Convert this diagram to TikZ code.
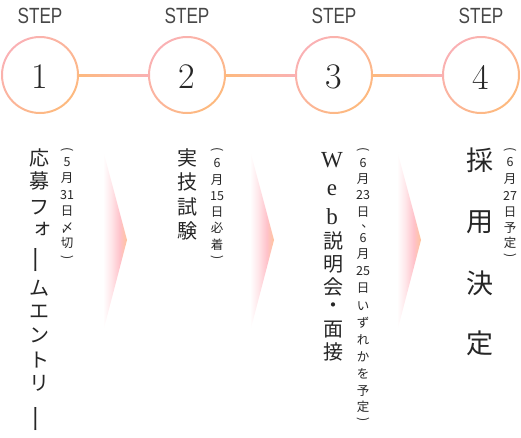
\documentclass[tikz,border=0pt]{standalone}
\usepackage{fontspec}
\usepackage{graphicx}
\newfontfamily\jp{Noto Sans CJK JP}
\newfontfamily\serifl{Liberation Serif}
\newfontfamily\stepfont[FakeStretch=0.78]{Liberation Sans}
\definecolor{pinkc}{HTML}{FAB1B4}
\definecolor{orangec}{HTML}{FDB97E}
\definecolor{chevpink}{HTML}{FFC2CA}
\definecolor{chevorange}{HTML}{FFC39C}
\definecolor{txt}{HTML}{262626}
\definecolor{steptxt}{HTML}{474747}
\pgfdeclarehorizontalshading{chev}{100bp}{color(0bp)=(white); color(25bp)=(white); color(42bp)=(white!60!chevpink); color(60bp)=(chevpink); color(75bp)=(chevorange); color(100bp)=(chevorange)}
\tikzset{
  mj/.style={font=\jp\fontsize{20}{20}\selectfont, text=txt, inner sep=0pt},
  bigj/.style={font=\jp\fontsize{27}{27}\selectfont, text=txt, inner sep=0pt},
  lat/.style={font=\serifl\fontsize{23}{23}\selectfont, text=txt, inner sep=0pt},
  sj/.style={font=\jp\fontsize{12.5}{12.5}\selectfont, text=txt, inner sep=0pt},
  steplbl/.style={font=\stepfont\fontsize{22}{22}\selectfont, text=steptxt, inner sep=0pt},
  circ/.style={circle, minimum size=76pt, inner sep=0pt, outer sep=0pt},
  digit/.style={font=\fontsize{36}{36}\selectfont, text=txt, inner sep=0pt},
}
\newcommand\vbar{\rotatebox{90}{\scalebox{1.45}[1]{ー}}}
\newcommand\lp{\rotatebox{-90}{(}}
\newcommand\rp{\rotatebox{-90}{)}}
\begin{document}
\begin{tikzpicture}[x=1pt,y=-1pt]
\useasboundingbox (0,0) rectangle (521,437);

% circles, labels, digits
\foreach \i/\x in {1/40,2/187,3/334,4/481}{
  \node[circ] (c\i) at (\x,75) {};
  \shade[top color=pinkc, bottom color=orangec, shading angle=45, even odd rule]
    (c\i.center) circle[radius=39pt] (c\i.center) circle[radius=37pt];
  \node[steplbl] (t\i) at (\x,16) {STEP};
  \node[digit] (d\i) at (\x,77) {\i};
}
% connectors
\foreach \a/\b in {1/2,2/3,3/4}{
  \shade[left color=orangec, right color=pinkc]
    ([yshift=1pt]c\a.east) rectangle ([yshift=-1pt]c\b.west);
}

% chevrons
\foreach \dx in {0,147,294}{
  \shade[shading=chev] (103+\dx,150) -- (127+\dx,240) -- (103+\dx,332) -- cycle;
}

% step 1 main
\foreach \c/\y [count=\k] in {応/158,募/181,フ/208,{\vbar}/260,ム/288,エ/312,ン/335,ト/360,リ/383}{
  \node[mj] (ma\k) at (39,\y) {\c};
}
\node[mj] (ma-o) at (42,229) {ォ};
\node[mj] (ma-end) at (39,419) {\vbar};
% step 1 sub
\foreach \c/\y [count=\k] in {{\lp}/150,5/162,月/178,31/195,日/211,〆/228,切/243,{\rp}/258}{
  \node[sj] (sa\k) at (67,\y) {\c};
}

% step 2 main
\foreach \c/\y [count=\k] in {実/158,技/182,試/207,験/231}{
  \node[mj] (mb\k) at (187,\y) {\c};
}
% step 2 sub
\foreach \c/\y [count=\k] in {{\lp}/150,6/163,月/180,15/196,日/212,必/228,着/245,{\rp}/258}{
  \node[sj] (sb\k) at (217,\y) {\c};
}

% step 3 main
\foreach \c/\y [count=\k] in {W/160,e/190,b/217}{
  \node[lat] (mcl\k) at (332,\y) {\c};
}
\foreach \c/\y [count=\k] in {説/241,明/264,会/287,・/308,面/330,接/352}{
  \node[mj] (mc\k) at (333,\y) {\c};
}
% step 3 sub
\foreach \c/\y [count=\k] in {{\lp}/150,6/163,月/179,23/195,日/212,6/238,月/254,25/271,日/288,い/306,ず/323,れ/340,か/357,を/374,予/391,定/407,{\rp}/420}{
  \node[sj] (sc\k) at (363,\y) {\c};
}
\node[sj] (sc-comma) at (367.5,227) {\smash{、}};

% step 4 main
\foreach \c/\y [count=\k] in {採/160,用/222,決/283,定/343}{
  \node[bigj] (md\k) at (480,\y) {\c};
}
% step 4 sub
\foreach \c/\y [count=\k] in {{\lp}/150,6/162,月/179,27/196,日/212,予/228,定/243,{\rp}/256}{
  \node[sj] (sd\k) at (510,\y) {\c};
}
\end{tikzpicture}
\end{document}
